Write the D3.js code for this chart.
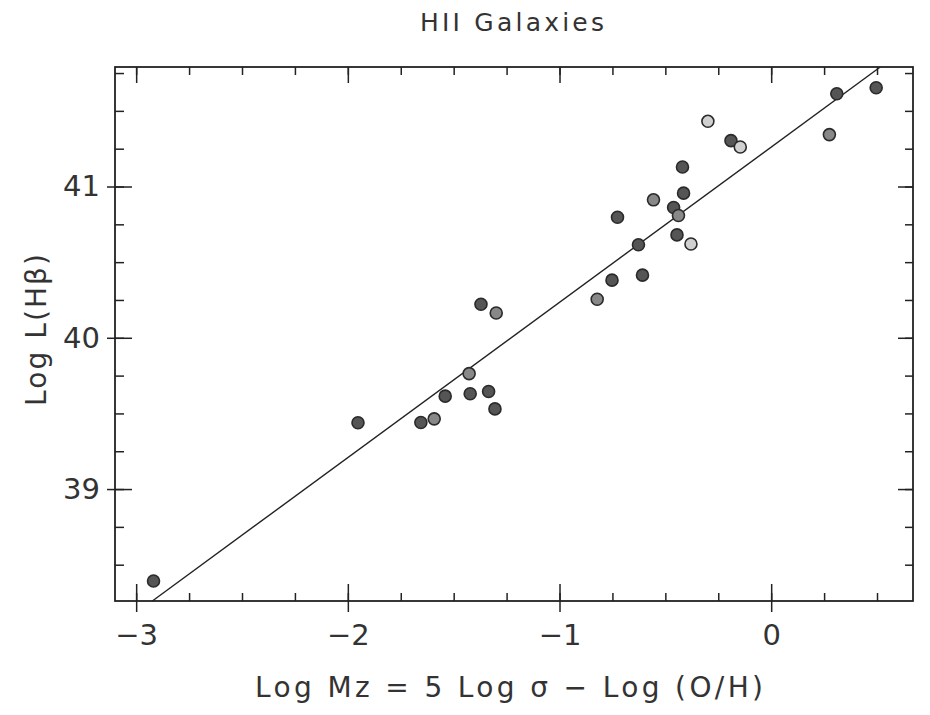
<!DOCTYPE html>
<html>
<head>
<meta charset="utf-8">
<script src="https://cdn.jsdelivr.net/npm/d3@7/dist/d3.min.js"></script>
<style>
  html, body { margin: 0; padding: 0; background: #fff; }
  svg { display: block; }
  text { font-family: "DejaVu Sans", "Liberation Sans", sans-serif; fill: #333; }
</style>
</head>
<body>
<svg id="chart" width="930" height="715"></svg>
<script>
// HII galaxies: Balmer luminosity against the metallicity-corrected mass estimator
const logMz = [-2.918, -1.952, -1.655, -1.592, -1.540, -1.427, -1.422, -1.371, -1.335, -1.305,
               -1.299, -0.822, -0.752, -0.726, -0.627, -0.608, -0.556, -0.461, -0.438, -0.445,
               -0.414, -0.419, -0.379, -0.299, -0.190, -0.146, 0.275, 0.310, 0.496];
const logLHb = [38.392, 39.438, 39.440, 39.464, 39.614, 39.763, 39.630, 40.222, 39.645, 39.530,
                40.164, 40.255, 40.381, 40.797, 40.615, 40.414, 40.912, 40.861, 40.808, 40.680,
                40.956, 41.129, 40.620, 41.431, 41.303, 41.261, 41.343, 41.613, 41.653];
const symbol = ["filled", "filled", "filled", "half", "filled", "half", "filled", "filled", "filled", "filled",
                "half", "half", "filled", "filled", "filled", "filled", "half", "filled", "half", "filled",
                "filled", "filled", "open", "open", "filled", "open", "half", "filled", "filled"];

// straight-line fit drawn across the panel
const fitSlope = 1.0265;
const fitIntercept = 41.261;

// axis ranges and ticks
const xDomain = [-3.1, 0.67];
const yDomain = [38.26, 41.79];
const xMajor = [-3, -2, -1, 0];
const xTickLabels = ["\u22123", "\u22122", "\u22121", "0"];
const xMinor = [-3, -2.75, -2.5, -2.25, -2, -1.75, -1.5, -1.25, -1, -0.75, -0.5, -0.25, 0, 0.25, 0.5];
const yMajor = [39, 40, 41];
const yTickLabels = ["39", "40", "41"];
const yMinor = [38.5, 38.75, 39, 39.25, 39.5, 39.75, 40, 40.25, 40.5, 40.75, 41, 41.25, 41.5, 41.75];

const titleText = "HII Galaxies";
const xLabelText = "Log Mz = 5 Log \u03c3 \u2212 Log (O/H)";
const yLabelText = "Log L(H\u03b2)";

const svg = d3.select("#chart");
const plotLeft = 115, plotRight = 913, plotTop = 67, plotBottom = 601;

const x = d3.scaleLinear().domain(xDomain).range([plotLeft, plotRight]);
const y = d3.scaleLinear().domain(yDomain).range([plotBottom, plotTop]);

const ink = "#222";
const fontStack = "'DejaVu Sans', 'Liberation Sans', sans-serif";

function styleAxis(g) {
  g.select(".domain").remove();
  g.selectAll(".tick line").attr("stroke", ink).attr("stroke-width", 1.5);
  g.selectAll(".tick text").attr("fill", "#333").attr("font-size", 29)
    .attr("font-family", fontStack);
}

// bottom axis: minor ticks inward, major ticks cross the frame line, labels below
svg.append("g").attr("transform", `translate(0,${plotBottom})`)
  .call(d3.axisTop(x).tickValues(xMinor).tickSize(8).tickFormat("")).call(styleAxis);
svg.append("g").attr("transform", `translate(0,${plotBottom})`)
  .call(d3.axisTop(x).tickValues(xMajor).tickSize(17).tickFormat("")).call(styleAxis);
svg.append("g").attr("transform", `translate(0,${plotBottom})`)
  .call(d3.axisBottom(x).tickValues(xMajor).tickSize(11).tickPadding(12)
    .tickFormat((d, i) => xTickLabels[i])).call(styleAxis);

// top axis: inward ticks only
svg.append("g").attr("transform", `translate(0,${plotTop})`)
  .call(d3.axisBottom(x).tickValues(xMinor).tickSize(8).tickFormat("")).call(styleAxis);
svg.append("g").attr("transform", `translate(0,${plotTop})`)
  .call(d3.axisBottom(x).tickValues(xMajor).tickSize(16).tickFormat("")).call(styleAxis);

// left axis: minor inward, major crossing, labels to the left
svg.append("g").attr("transform", `translate(${plotLeft},0)`)
  .call(d3.axisRight(y).tickValues(yMinor).tickSize(9).tickFormat("")).call(styleAxis);
svg.append("g").attr("transform", `translate(${plotLeft},0)`)
  .call(d3.axisRight(y).tickValues(yMajor).tickSize(17).tickFormat("")).call(styleAxis);
svg.append("g").attr("transform", `translate(${plotLeft},0)`)
  .call(d3.axisLeft(y).tickValues(yMajor).tickSize(8).tickPadding(7)
    .tickFormat((d, i) => yTickLabels[i])).call(styleAxis);

// right axis: inward ticks only
svg.append("g").attr("transform", `translate(${plotRight},0)`)
  .call(d3.axisLeft(y).tickValues(yMinor).tickSize(8).tickFormat("")).call(styleAxis);
svg.append("g").attr("transform", `translate(${plotRight},0)`)
  .call(d3.axisLeft(y).tickValues(yMajor).tickSize(15).tickFormat("")).call(styleAxis);

// frame
svg.append("rect")
  .attr("x", plotLeft).attr("y", plotTop)
  .attr("width", plotRight - plotLeft).attr("height", plotBottom - plotTop)
  .attr("fill", "none").attr("stroke", ink).attr("stroke-width", 1.8);

// fit line, clipped to the panel
const xLo = Math.max(xDomain[0], (yDomain[0] - fitIntercept) / fitSlope);
const xHi = Math.min(xDomain[1], (yDomain[1] - fitIntercept) / fitSlope);
svg.append("line")
  .attr("x1", x(xLo)).attr("y1", y(fitSlope * xLo + fitIntercept))
  .attr("x2", x(xHi)).attr("y2", y(fitSlope * xHi + fitIntercept))
  .attr("stroke", ink).attr("stroke-width", 1.4);

// galaxies
const fills = { filled: "#555", half: "#888", open: "#d0d0d0" };
const points = logMz.map((v, i) => ({ x: v, y: logLHb[i], s: symbol[i] }));
svg.append("g").selectAll("circle").data(points).join("circle")
  .attr("cx", d => x(d.x)).attr("cy", d => y(d.y)).attr("r", 6)
  .attr("fill", d => fills[d.s])
  .attr("stroke", "#2a2a2a").attr("stroke-width", 1.6);

// labels
svg.append("text").attr("x", 512).attr("y", 31).attr("text-anchor", "middle")
  .attr("font-size", 25).attr("textLength", 184).attr("lengthAdjust", "spacing")
  .text(titleText);

svg.append("text").attr("x", 509).attr("y", 697).attr("text-anchor", "middle")
  .attr("font-size", 28).attr("textLength", 508).attr("lengthAdjust", "spacing")
  .text(xLabelText);

svg.append("text").attr("transform", "translate(46,330) rotate(-90)")
  .attr("text-anchor", "middle")
  .attr("font-size", 28).attr("textLength", 152).attr("lengthAdjust", "spacing")
  .text(yLabelText);
</script>
</body>
</html>
